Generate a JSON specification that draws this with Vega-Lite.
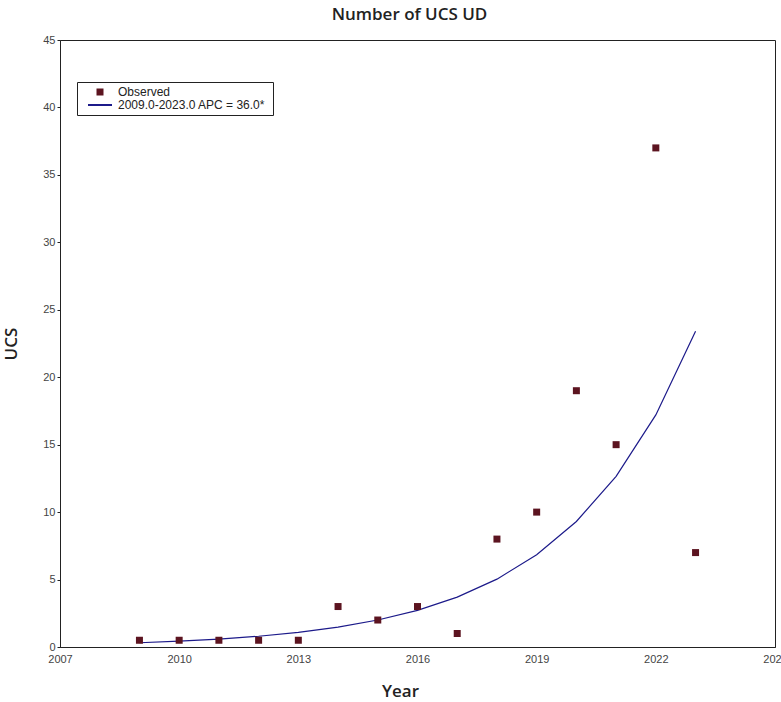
{
  "$schema": "https://vega.github.io/schema/vega-lite/v6.json",
  "autosize": {"type": "none"},
  "width": 715,
  "height": 607,
  "padding": {"left": 60, "top": 40, "right": 6, "bottom": 55},
  "background": "white",
  "title": {"text": "Number of UCS UD", "font": "Open Sans", "fontSize": 17, "fontWeight": 600, "color": "#222222", "offset": 10, "anchor": "middle", "dx": -8},
  "config": {
    "view": {"stroke": "#222222", "strokeWidth": 1},
    "axis": {"grid": false, "domainColor": "#222222", "labelFont": "Liberation Sans", "labelFontSize": 11, "labelColor": "#444444", "titleFont": "Open Sans", "titleFontSize": 17, "titleFontWeight": 600, "titleColor": "#222222"}
  },
  "data": {"values": [
    {"year": 2009, "ucs": 0.5, "series": "Observed"},
    {"year": 2010, "ucs": 0.5, "series": "Observed"},
    {"year": 2011, "ucs": 0.5, "series": "Observed"},
    {"year": 2012, "ucs": 0.5, "series": "Observed"},
    {"year": 2013, "ucs": 0.5, "series": "Observed"},
    {"year": 2014, "ucs": 3, "series": "Observed"},
    {"year": 2015, "ucs": 2, "series": "Observed"},
    {"year": 2016, "ucs": 3, "series": "Observed"},
    {"year": 2017, "ucs": 1, "series": "Observed"},
    {"year": 2018, "ucs": 8, "series": "Observed"},
    {"year": 2019, "ucs": 10, "series": "Observed"},
    {"year": 2020, "ucs": 19, "series": "Observed"},
    {"year": 2021, "ucs": 15, "series": "Observed"},
    {"year": 2022, "ucs": 37, "series": "Observed"},
    {"year": 2023, "ucs": 7, "series": "Observed"},
    {"year": 2009, "ucs": 0.316, "series": "2009.0-2023.0 APC  = 36.0*"},
    {"year": 2010, "ucs": 0.430, "series": "2009.0-2023.0 APC  = 36.0*"},
    {"year": 2011, "ucs": 0.584, "series": "2009.0-2023.0 APC  = 36.0*"},
    {"year": 2012, "ucs": 0.795, "series": "2009.0-2023.0 APC  = 36.0*"},
    {"year": 2013, "ucs": 1.081, "series": "2009.0-2023.0 APC  = 36.0*"},
    {"year": 2014, "ucs": 1.470, "series": "2009.0-2023.0 APC  = 36.0*"},
    {"year": 2015, "ucs": 2.000, "series": "2009.0-2023.0 APC  = 36.0*"},
    {"year": 2016, "ucs": 2.719, "series": "2009.0-2023.0 APC  = 36.0*"},
    {"year": 2017, "ucs": 3.698, "series": "2009.0-2023.0 APC  = 36.0*"},
    {"year": 2018, "ucs": 5.030, "series": "2009.0-2023.0 APC  = 36.0*"},
    {"year": 2019, "ucs": 6.840, "series": "2009.0-2023.0 APC  = 36.0*"},
    {"year": 2020, "ucs": 9.303, "series": "2009.0-2023.0 APC  = 36.0*"},
    {"year": 2021, "ucs": 12.652, "series": "2009.0-2023.0 APC  = 36.0*"},
    {"year": 2022, "ucs": 17.207, "series": "2009.0-2023.0 APC  = 36.0*"},
    {"year": 2023, "ucs": 23.401, "series": "2009.0-2023.0 APC  = 36.0*"}
  ]},
  "encoding": {
    "x": {"field": "year", "type": "quantitative", "title": "Year",
      "scale": {"domain": [2007, 2025], "nice": false, "zero": false},
      "axis": {"values": [2007, 2010, 2013, 2016, 2019, 2022, 2025], "format": "d", "ticks": false, "labelPadding": 6, "titlePadding": 19, "titleX": 340, "labelFlush": false}},
    "y": {"field": "ucs", "type": "quantitative", "title": "UCS",
      "scale": {"domain": [0, 45], "nice": false},
      "axis": {"values": [0, 5, 10, 15, 20, 25, 30, 35, 40, 45], "ticks": true, "tickSize": 3, "tickColor": "#222222", "labelPadding": 2, "titlePadding": 22}},
    "color": {"field": "series", "type": "nominal",
      "scale": {"domain": ["Observed", "2009.0-2023.0 APC  = 36.0*"], "range": ["#5c1420", "#1c1a8a"]},
      "legend": {"title": null, "orient": "none", "legendX": 17, "legendY": 42,
        "strokeColor": "#222222", "fillColor": "white", "padding": 4,
        "labelFont": "Liberation Sans", "labelFontSize": 12, "labelColor": "#222222",
        "rowPadding": 0, "labelOffset": 12, "symbolOffset": 13, "symbolSize": 25, "symbolStrokeWidth": 2,
        "encode": {"symbols": {"update": {
          "shape": {"signal": "datum.value === 'Observed' ? 'square' : 'M-3,0H3'"},
          "size": {"signal": "datum.value === 'Observed' ? 25 : 64"},
          "stroke": {"signal": "datum.value === 'Observed' ? 'transparent' : '#1c1a8a'"},
          "fill": {"signal": "datum.value === 'Observed' ? '#5c1420' : 'transparent'"},
          "strokeWidth": {"value": 2}
        }}}}}
  },
  "layer": [
    {"transform": [{"filter": "datum.series !== 'Observed'"}],
     "mark": {"type": "line", "strokeWidth": 1.2}},
    {"transform": [{"filter": "datum.series === 'Observed'"}],
     "mark": {"type": "square", "size": 49, "opacity": 1, "filled": true}}
  ]
}
